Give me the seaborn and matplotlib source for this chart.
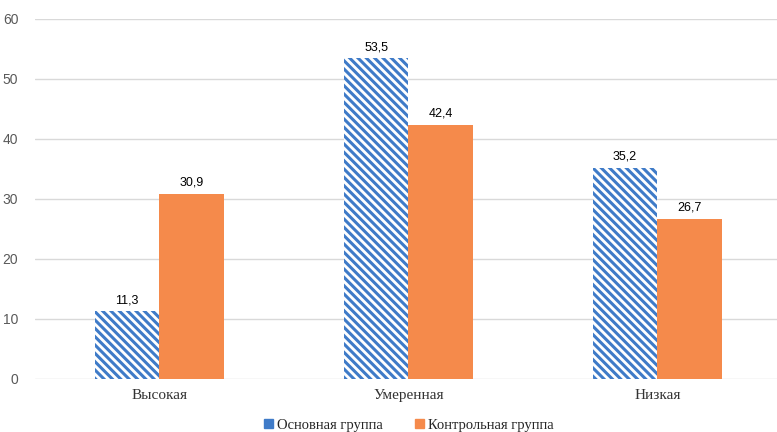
import matplotlib
matplotlib.use("Agg")
import matplotlib.pyplot as plt
import seaborn as sns
import pandas as pd
from matplotlib.patches import Patch

categories = ["Высокая", "Умеренная", "Низкая"]
groups = ["Основная группа", "Контрольная группа"]
main_values = [11.3, 53.5, 35.2]
control_values = [30.9, 42.4, 26.7]

blue = "#3F7BC8"
orange = "#F58A4B"

df = pd.DataFrame({
    "category": categories * 2,
    "group": [groups[0]] * 3 + [groups[1]] * 3,
    "value": main_values + control_values,
})

sns.set_style("white")
plt.rcParams["hatch.linewidth"] = 2.2

fig = plt.figure(figsize=(7.77, 4.32), dpi=100)
ax = fig.add_axes([35 / 777, 53 / 432, 742 / 777, 360 / 432])

sns.barplot(data=df, x="category", y="value", hue="group", order=categories,
            hue_order=groups, palette=[blue, orange], width=0.52,
            saturation=1, errorbar=None, legend=False, ax=ax, zorder=3)

bars = ax.patches
for p in bars[:3]:
    p.set_facecolor("white")
    p.set_edgecolor(blue)
    p.set_hatch("\\\\\\\\")
    p.set_linewidth(0)
for p in bars[3:6]:
    p.set_linewidth(0)

for p, v in zip(bars[:6], main_values + control_values):
    ax.annotate(f"{v:.1f}".replace(".", ","),
                (p.get_x() + p.get_width() / 2, p.get_height()),
                xytext=(0, 3.5), textcoords="offset points",
                ha="center", va="bottom", fontsize=9, color="#000000",
                family="Liberation Sans")

ax.set_ylim(0, 60)
ax.set_xlim(-0.5, 2.48)
ax.set_yticks(range(0, 61, 10))
ax.yaxis.grid(True, color="#D9D9D9", linewidth=1, zorder=0)
ax.set_axisbelow(True)
for s in ax.spines.values():
    s.set_visible(False)
ax.tick_params(axis="y", length=0, pad=12, labelsize=10, labelcolor="#595959")
ax.tick_params(axis="x", length=0, pad=7)
for t in ax.get_xticklabels():
    t.set_family("Liberation Serif")
    t.set_fontsize(11)
    t.set_color("#333333")
for t in ax.get_yticklabels():
    t.set_family("Liberation Sans")
ax.set_xlabel("")
ax.set_ylabel("")

handles = [Patch(facecolor=blue, edgecolor=blue), Patch(facecolor=orange, edgecolor=orange)]
fig.legend(handles, groups, loc="center", bbox_to_anchor=(409 / 777, 1 - 425 / 432),
           ncol=2, frameon=False, handlelength=0.6, handleheight=0.6,
           handletextpad=0.3, columnspacing=2.2,
           prop={"family": "Liberation Serif", "size": 10.5})

fig.savefig("out.png", dpi=100)
